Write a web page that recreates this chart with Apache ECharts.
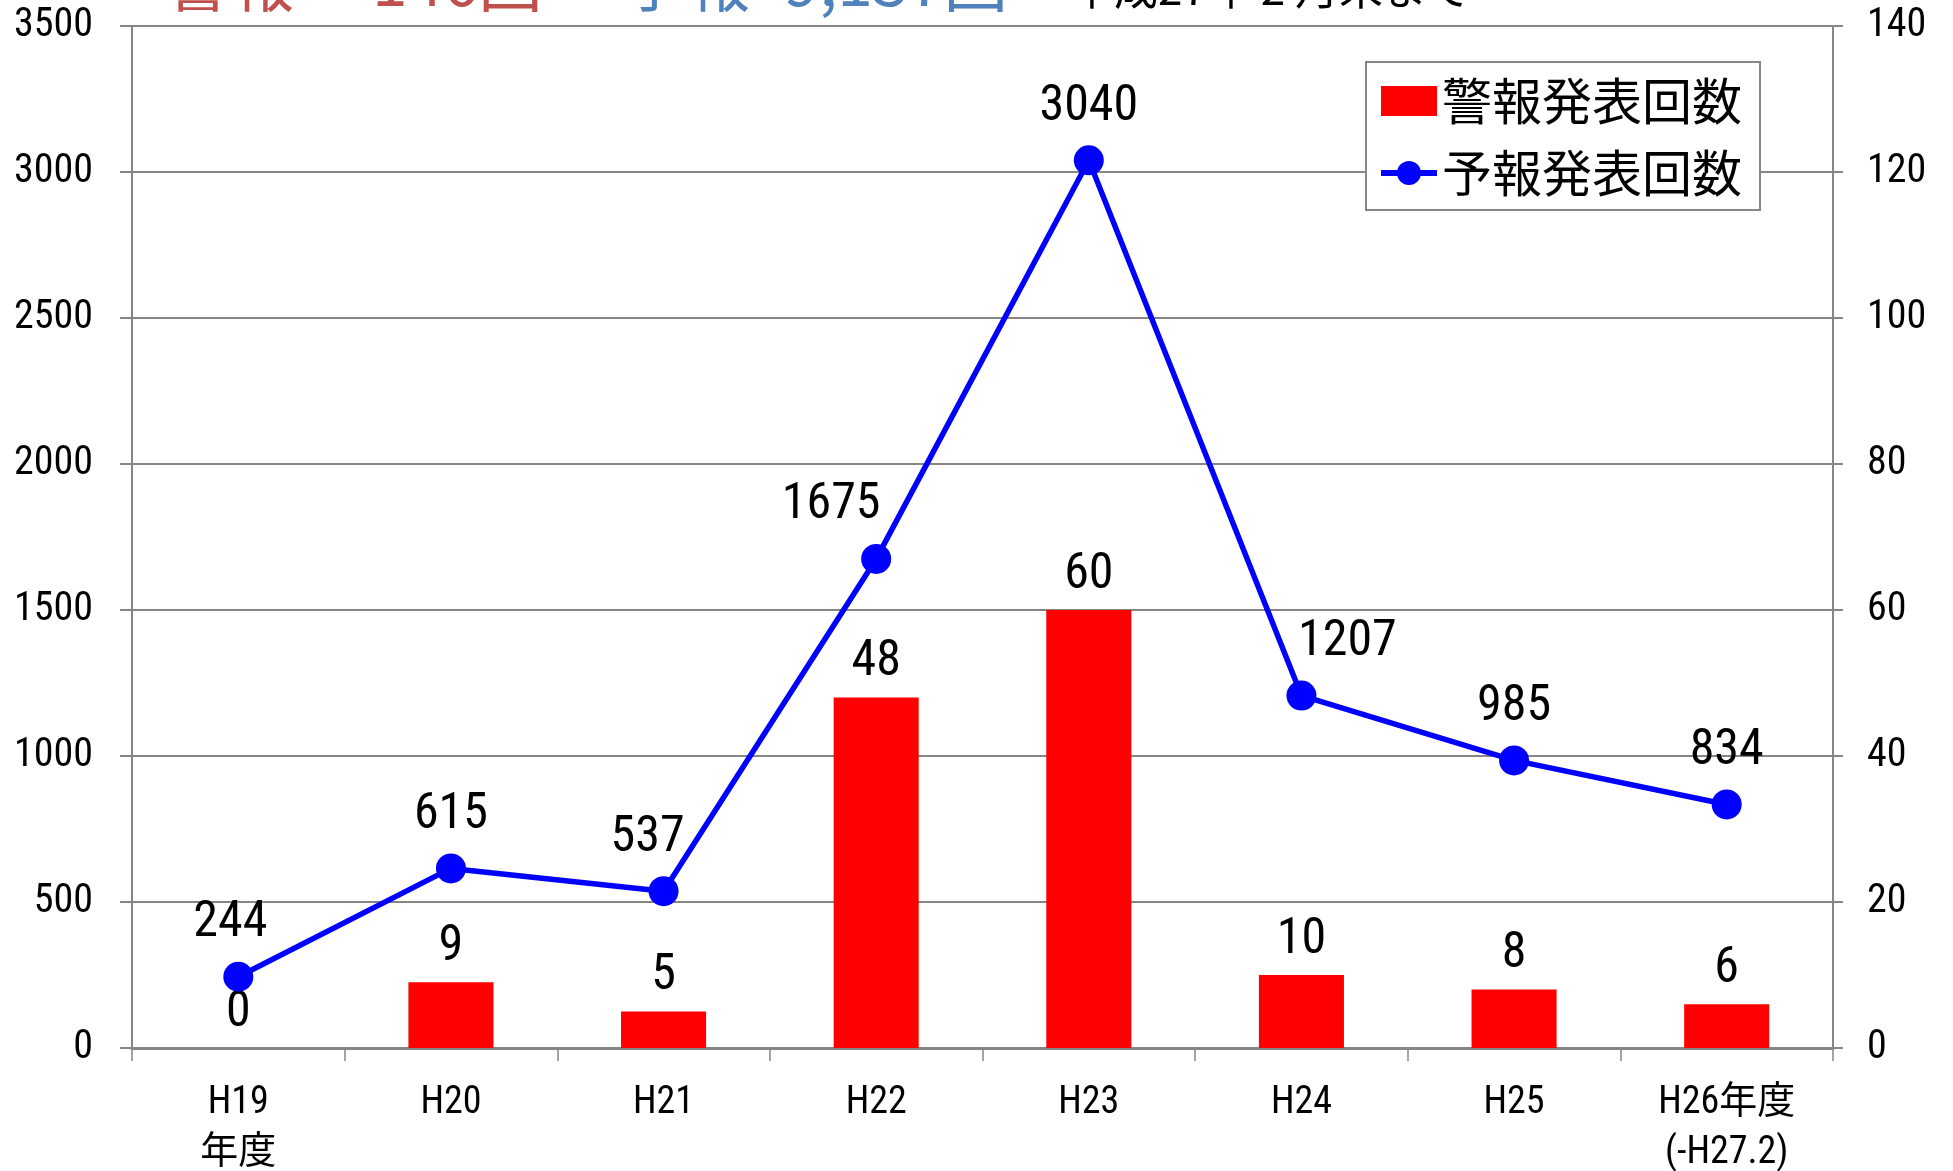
<!DOCTYPE html>
<html>
<head>
<meta charset="utf-8">
<script src="https://cdn.jsdelivr.net/npm/echarts@6/dist/echarts.min.js"></script>
<style>
  html, body { margin: 0; padding: 0; background: #fff; }
  #chart { width: 1953px; height: 1171px; }
</style>
</head>
<body>
<div id="chart"></div>
<script>
// 年度
const categories = ["H19\n年度", "H20", "H21", "H22", "H23", "H24", "H25", "H26年度\n(-H27.2)"];
// 警報発表回数 (右軸)
const warningCounts = [0, 9, 5, 48, 60, 10, 8, 6];
// 予報発表回数 (左軸)
const forecastCounts = [244, 615, 537, 1675, 3040, 1207, 985, 834];
// 軸目盛
const leftTicks = [0, 500, 1000, 1500, 2000, 2500, 3000, 3500];
const rightTicks = [0, 20, 40, 60, 80, 100, 120, 140];

const NARROW = '"Roboto Condensed", "Noto Sans CJK JP", sans-serif';
const CJK = '"Noto Sans CJK JP", sans-serif';
const GRID_GRAY = "#868686";

// ラベル位置の微調整 (重なり回避)
const lineLabelShift = { 0: [-8, 0], 2: [-16, 0], 3: [-45, 0], 5: [46, 0] };

const chart = echarts.init(document.getElementById("chart"));

const option = {
  backgroundColor: "#fff",
  animation: false,
  grid: { left: 132, right: 120, top: 26, bottom: 123, containLabel: false, outerBoundsMode: "none" },
  legend: {
    orient: "vertical",
    left: 1366,
    top: 62,
    padding: [14, 18, 12, 12],
    itemGap: 22,
    itemWidth: 56,
    itemHeight: 30,
    borderColor: GRID_GRAY,
    borderWidth: 2,
    backgroundColor: "#fff",
    textStyle: { fontFamily: CJK, fontSize: 50, color: "#000" },
    data: [
      { name: "警報発表回数", icon: "rect" },
      { name: "予報発表回数", lineStyle: { width: 6 } }
    ]
  },
  // 上端で切れているタイトル
  graphic: [
    { type: "text", left: 166, top: -50, style: { text: "警報", font: "64px " + CJK, fill: "#C0504D" } },
    { type: "text", left: 372, top: -50, style: { text: "146回", font: "64px " + CJK, fill: "#C0504D" } },
    { type: "text", left: 622, top: -50, style: { text: "予報", font: "64px " + CJK, fill: "#4F81BD" } },
    { type: "text", left: 784, top: -50, style: { text: "9,137回", font: "64px " + CJK, fill: "#4F81BD" } },
    { type: "text", left: 1070, top: -34, style: { text: "平成27年 2 月末まで", font: "44px " + CJK, fill: "#000" } }
  ],
  xAxis: {
    type: "category",
    data: categories,
    axisLine: { show: true, lineStyle: { color: GRID_GRAY, width: 3 } },
    axisTick: { show: true, length: 13, lineStyle: { color: GRID_GRAY, width: 1.5 } },
    axisLabel: { fontFamily: NARROW, fontSize: 38, color: "#000", margin: 30, lineHeight: 50 }
  },
  yAxis: [
    {
      type: "value",
      min: leftTicks[0],
      max: leftTicks[leftTicks.length - 1],
      interval: leftTicks[1] - leftTicks[0],
      axisLine: { show: true, lineStyle: { color: GRID_GRAY, width: 2 } },
      axisTick: { show: true, length: 12, lineStyle: { color: GRID_GRAY, width: 2 } },
      splitLine: { show: true, lineStyle: { color: GRID_GRAY, width: 2 } },
      axisLabel: { fontFamily: NARROW, fontSize: 40, color: "#000", margin: 39, formatter: v => String(v) }
    },
    {
      type: "value",
      min: rightTicks[0],
      max: rightTicks[rightTicks.length - 1],
      interval: rightTicks[1] - rightTicks[0],
      axisLine: { show: true, lineStyle: { color: GRID_GRAY, width: 2 } },
      axisTick: { show: true, length: 10, lineStyle: { color: GRID_GRAY, width: 2 } },
      splitLine: { show: false },
      axisLabel: { fontFamily: NARROW, fontSize: 40, color: "#000", margin: 34, formatter: v => String(v) }
    }
  ],
  series: [
    {
      name: "警報発表回数",
      type: "bar",
      yAxisIndex: 1,
      barWidth: "40%",
      itemStyle: { color: "#FF0000" },
      label: { show: true, position: "top", distance: 10, fontFamily: NARROW, fontSize: 50, color: "#000" },
      data: warningCounts
    },
    {
      name: "予報発表回数",
      type: "line",
      yAxisIndex: 0,
      symbol: "circle",
      symbolSize: 30,
      lineStyle: { color: "#0000FF", width: 5.5 },
      itemStyle: { color: "#0000FF" },
      label: { show: true, position: "top", distance: 13, fontFamily: NARROW, fontSize: 50, color: "#000" },
      data: forecastCounts.map((v, i) =>
        lineLabelShift[i] ? { value: v, label: { offset: lineLabelShift[i] } } : v
      )
    }
  ]
};

chart.setOption(option);
</script>
</body>
</html>
